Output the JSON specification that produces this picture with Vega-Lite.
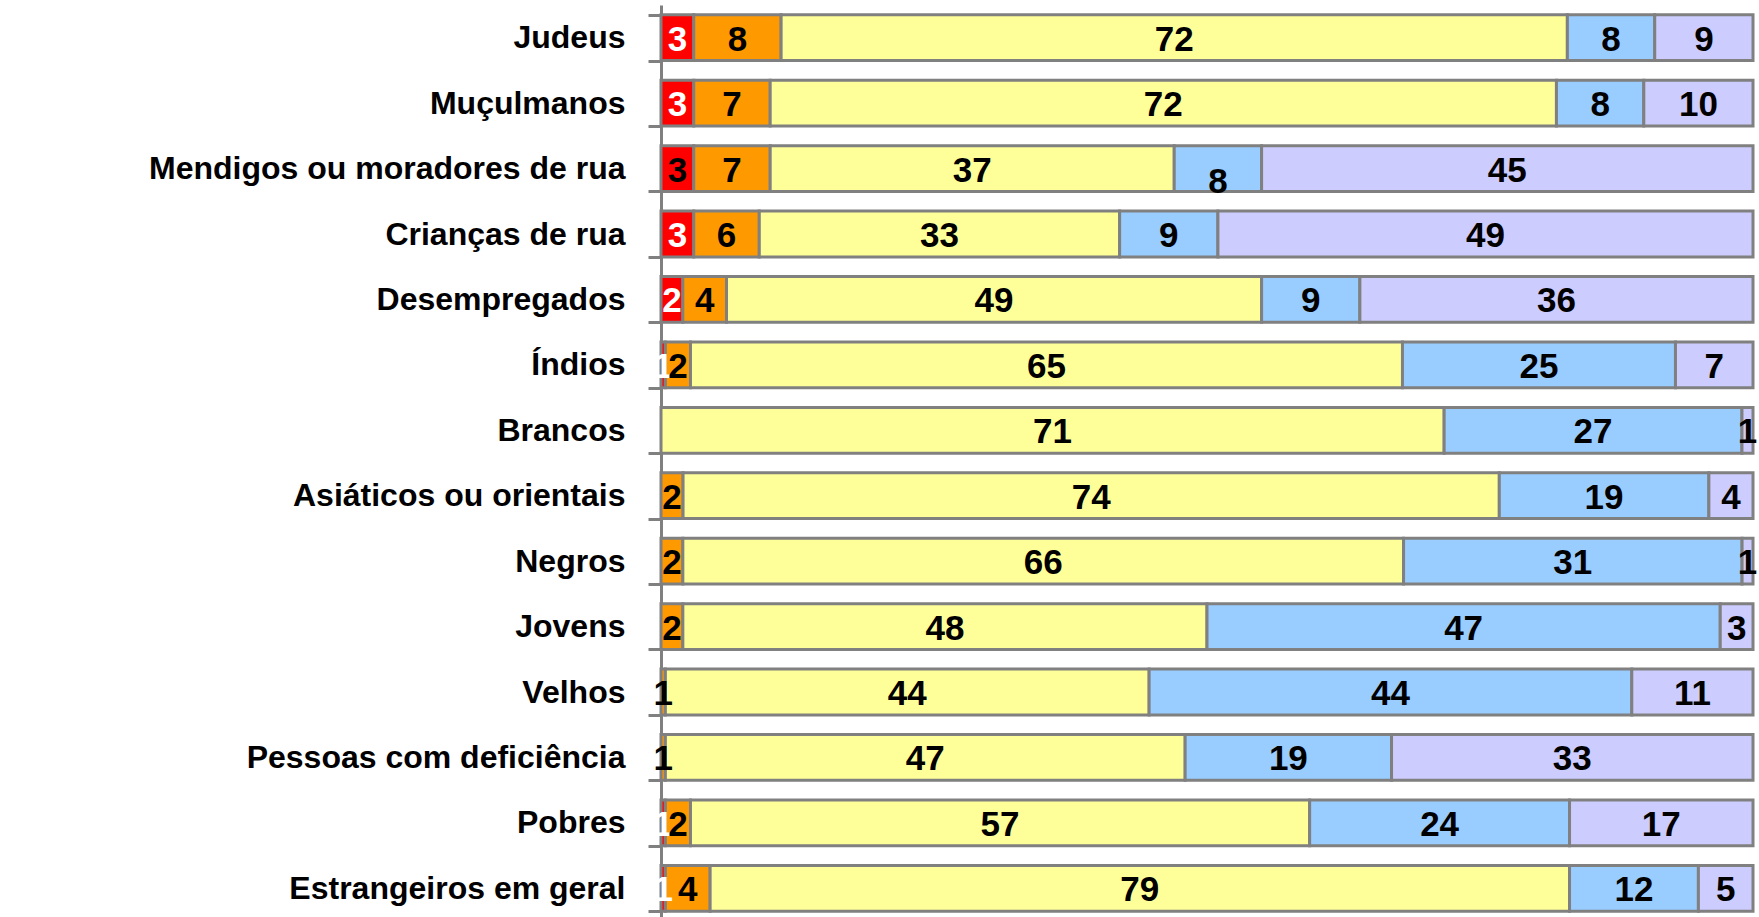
{
  "$schema": "https://vega.github.io/schema/vega-lite/v6.json",
  "width": 1092,
  "height": 916,
  "autosize": "none",
  "padding": {"left": 661, "top": 5, "right": 6, "bottom": 0},
  "background": "white",
  "config": {"view": {"stroke": null}},
  "data": {
    "values": [
      {"cat": "Judeus", "seg": "r", "k": 1, "v": 3, "lab": "3"},
      {"cat": "Judeus", "seg": "o", "k": 2, "v": 8, "lab": "8"},
      {"cat": "Judeus", "seg": "y", "k": 3, "v": 72, "lab": "72"},
      {"cat": "Judeus", "seg": "b", "k": 4, "v": 8, "lab": "8"},
      {"cat": "Judeus", "seg": "l", "k": 5, "v": 9, "lab": "9"},
      {"cat": "Muçulmanos", "seg": "r", "k": 1, "v": 3, "lab": "3"},
      {"cat": "Muçulmanos", "seg": "o", "k": 2, "v": 7, "lab": "7"},
      {"cat": "Muçulmanos", "seg": "y", "k": 3, "v": 72, "lab": "72"},
      {"cat": "Muçulmanos", "seg": "b", "k": 4, "v": 8, "lab": "8"},
      {"cat": "Muçulmanos", "seg": "l", "k": 5, "v": 10, "lab": "10"},
      {"cat": "Mendigos ou moradores de rua", "seg": "r", "k": 1, "v": 3, "lab": "3"},
      {"cat": "Mendigos ou moradores de rua", "seg": "o", "k": 2, "v": 7, "lab": "7"},
      {"cat": "Mendigos ou moradores de rua", "seg": "y", "k": 3, "v": 37, "lab": "37"},
      {"cat": "Mendigos ou moradores de rua", "seg": "b", "k": 4, "v": 8, "lab": "8"},
      {"cat": "Mendigos ou moradores de rua", "seg": "l", "k": 5, "v": 45, "lab": "45"},
      {"cat": "Crianças de rua", "seg": "r", "k": 1, "v": 3, "lab": "3"},
      {"cat": "Crianças de rua", "seg": "o", "k": 2, "v": 6, "lab": "6"},
      {"cat": "Crianças de rua", "seg": "y", "k": 3, "v": 33, "lab": "33"},
      {"cat": "Crianças de rua", "seg": "b", "k": 4, "v": 9, "lab": "9"},
      {"cat": "Crianças de rua", "seg": "l", "k": 5, "v": 49, "lab": "49"},
      {"cat": "Desempregados", "seg": "r", "k": 1, "v": 2, "lab": "2"},
      {"cat": "Desempregados", "seg": "o", "k": 2, "v": 4, "lab": "4"},
      {"cat": "Desempregados", "seg": "y", "k": 3, "v": 49, "lab": "49"},
      {"cat": "Desempregados", "seg": "b", "k": 4, "v": 9, "lab": "9"},
      {"cat": "Desempregados", "seg": "l", "k": 5, "v": 36, "lab": "36"},
      {"cat": "Índios", "seg": "r", "k": 1, "v": 0.4, "lab": "1"},
      {"cat": "Índios", "seg": "o", "k": 2, "v": 2.3, "lab": "2"},
      {"cat": "Índios", "seg": "y", "k": 3, "v": 65.2, "lab": "65"},
      {"cat": "Índios", "seg": "b", "k": 4, "v": 25, "lab": "25"},
      {"cat": "Índios", "seg": "l", "k": 5, "v": 7.1, "lab": "7"},
      {"cat": "Brancos", "seg": "y", "k": 3, "v": 71, "lab": "71"},
      {"cat": "Brancos", "seg": "b", "k": 4, "v": 27, "lab": "27"},
      {"cat": "Brancos", "seg": "l", "k": 5, "v": 1, "lab": "1"},
      {"cat": "Asiáticos ou orientais", "seg": "o", "k": 2, "v": 2, "lab": "2"},
      {"cat": "Asiáticos ou orientais", "seg": "y", "k": 3, "v": 74, "lab": "74"},
      {"cat": "Asiáticos ou orientais", "seg": "b", "k": 4, "v": 19, "lab": "19"},
      {"cat": "Asiáticos ou orientais", "seg": "l", "k": 5, "v": 4, "lab": "4"},
      {"cat": "Negros", "seg": "o", "k": 2, "v": 2, "lab": "2"},
      {"cat": "Negros", "seg": "y", "k": 3, "v": 66, "lab": "66"},
      {"cat": "Negros", "seg": "b", "k": 4, "v": 31, "lab": "31"},
      {"cat": "Negros", "seg": "l", "k": 5, "v": 1, "lab": "1"},
      {"cat": "Jovens", "seg": "o", "k": 2, "v": 2, "lab": "2"},
      {"cat": "Jovens", "seg": "y", "k": 3, "v": 48, "lab": "48"},
      {"cat": "Jovens", "seg": "b", "k": 4, "v": 47, "lab": "47"},
      {"cat": "Jovens", "seg": "l", "k": 5, "v": 3, "lab": "3"},
      {"cat": "Velhos", "seg": "o", "k": 2, "v": 0.4, "lab": "1"},
      {"cat": "Velhos", "seg": "y", "k": 3, "v": 44.3, "lab": "44"},
      {"cat": "Velhos", "seg": "b", "k": 4, "v": 44.2, "lab": "44"},
      {"cat": "Velhos", "seg": "l", "k": 5, "v": 11.1, "lab": "11"},
      {"cat": "Pessoas com deficiência", "seg": "o", "k": 2, "v": 0.4, "lab": "1"},
      {"cat": "Pessoas com deficiência", "seg": "y", "k": 3, "v": 47.6, "lab": "47"},
      {"cat": "Pessoas com deficiência", "seg": "b", "k": 4, "v": 18.9, "lab": "19"},
      {"cat": "Pessoas com deficiência", "seg": "l", "k": 5, "v": 33.1, "lab": "33"},
      {"cat": "Pobres", "seg": "r", "k": 1, "v": 0.4, "lab": "1"},
      {"cat": "Pobres", "seg": "o", "k": 2, "v": 2.3, "lab": "2"},
      {"cat": "Pobres", "seg": "y", "k": 3, "v": 56.7, "lab": "57"},
      {"cat": "Pobres", "seg": "b", "k": 4, "v": 23.8, "lab": "24"},
      {"cat": "Pobres", "seg": "l", "k": 5, "v": 16.8, "lab": "17"},
      {"cat": "Estrangeiros em geral", "seg": "r", "k": 1, "v": 0.4, "lab": "1"},
      {"cat": "Estrangeiros em geral", "seg": "o", "k": 2, "v": 4.1, "lab": "4"},
      {"cat": "Estrangeiros em geral", "seg": "y", "k": 3, "v": 78.7, "lab": "79"},
      {"cat": "Estrangeiros em geral", "seg": "b", "k": 4, "v": 11.8, "lab": "12"},
      {"cat": "Estrangeiros em geral", "seg": "l", "k": 5, "v": 5.0, "lab": "5"}
    ]
  },
  "encoding": {
    "y": {
      "field": "cat",
      "type": "nominal",
      "sort": null,
      "scale": {"paddingInner": 0.3, "paddingOuter": 0.15},
      "axis": {
        "title": null,
        "labelFont": "Liberation Sans",
        "labelFontSize": 32,
        "labelFontWeight": "bold",
        "labelColor": "black",
        "labelPadding": 23,
        "labelLimit": 0,
        "tickBand": "extent",
        "tickSize": 13,
        "tickWidth": 3,
        "tickColor": "#808080",
        "domainColor": "#808080",
        "domainWidth": 3
      }
    }
  },
  "layer": [
    {
      "mark": {"type": "bar", "stroke": "#808080", "strokeWidth": 3},
      "encoding": {
        "x": {
          "field": "v",
          "type": "quantitative",
          "stack": "normalize",
          "axis": null,
          "scale": {"domain": [0, 1], "nice": false, "zero": true}
        },
        "color": {
          "field": "seg",
          "type": "nominal",
          "scale": {
            "domain": ["r", "o", "y", "b", "l"],
            "range": ["#FF0000", "#FF9900", "#FFFF99", "#99CCFF", "#CCCCFF"]
          },
          "legend": null
        },
        "order": {"field": "k", "type": "quantitative"}
      }
    },
    {
      "mark": {
        "type": "text",
        "font": "Liberation Sans",
        "fontSize": 35,
        "fontWeight": "bold",
        "baseline": "middle",
        "align": "center",
        "dy": {"expr": "datum.cat == 'Mendigos ou moradores de rua' && datum.k == 4 ? 13 : 2"}
      },
      "encoding": {
        "x": {
          "field": "v",
          "type": "quantitative",
          "stack": "normalize",
          "bandPosition": 0.5
        },
        "detail": {"field": "seg", "type": "nominal"},
        "order": {"field": "k", "type": "quantitative"},
        "text": {"field": "lab", "type": "nominal"},
        "color": {
          "condition": {
            "test": "datum.k == 1 && datum.cat != 'Mendigos ou moradores de rua'",
            "value": "white"
          },
          "value": "black"
        }
      }
    }
  ]
}
